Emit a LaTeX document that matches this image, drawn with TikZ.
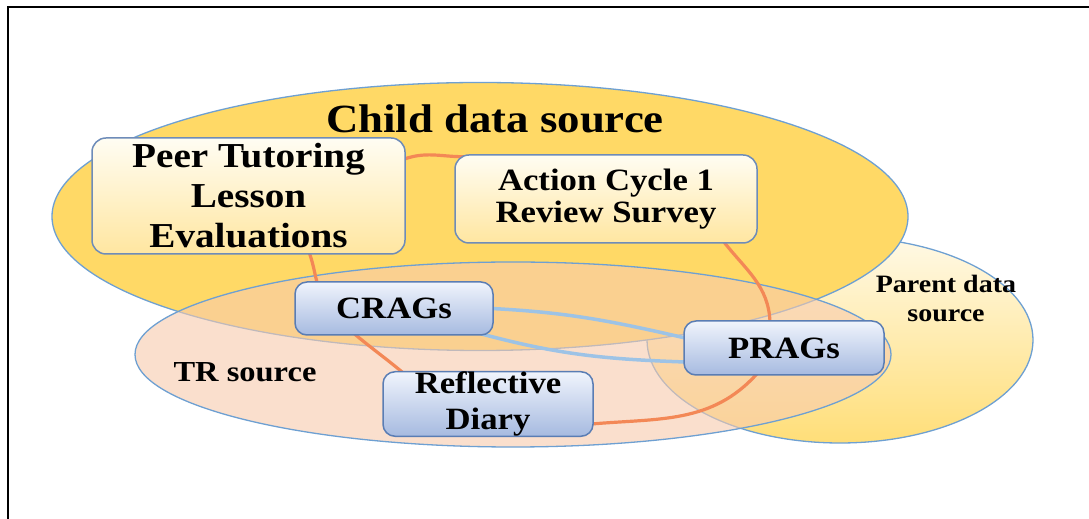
\documentclass[tikz,border=0pt]{standalone}
\usepackage{fontspec}
\setmainfont{Liberation Serif}[FakeStretch=1.12]
\usetikzlibrary{calc}

\pgfdeclarelayer{ell}
\pgfdeclarelayer{conn}
\pgfsetlayers{ell,conn,main}

\definecolor{childY}{RGB}{255,217,102}
\definecolor{trP}{RGB}{248,203,173}
\definecolor{edgeB}{RGB}{110,160,210}
\definecolor{loopO}{RGB}{243,136,86}
\definecolor{lensB}{RGB}{157,195,230}
\definecolor{ybTop}{RGB}{255,253,243}
\definecolor{ybBot}{RGB}{255,230,160}
\definecolor{bbTop}{RGB}{240,244,252}
\definecolor{bbBot}{RGB}{166,186,224}
\definecolor{bbEdge}{RGB}{90,125,180}
\definecolor{ybEdge}{RGB}{110,140,185}
\definecolor{parTop}{RGB}{255,249,230}
\definecolor{parBot}{RGB}{255,222,120}

\begin{document}
\begin{tikzpicture}[x=1pt,y=1pt,
  yellowbox/.style={draw=ybEdge, line width=1.5, rounded corners=14, top color=ybTop, bottom color=ybBot, align=center, inner sep=0},
  bluebox/.style={draw=bbEdge, line width=1.5, rounded corners=12, top color=bbTop, bottom color=bbBot, align=center, inner sep=0},
  elledge/.style={draw=edgeB, line width=1.3},
  loopline/.style={draw=loopO, line width=3.2},
  lensline/.style={draw=lensB, line width=3.5},
  title/.style={align=center, inner sep=0}
]
\useasboundingbox (0,0) rectangle (1089,519);

% boxes
\node[yellowbox, minimum width=313, minimum height=116, font=\fontsize{35}{40}\selectfont\bfseries]
  (peer) at (248.5,323) {Peer Tutoring\\Lesson\\Evaluations};
\node[yellowbox, minimum width=302, minimum height=88, font=\fontsize{31}{32}\selectfont\bfseries]
  (action) at (606,320) {Action Cycle 1\\Review Survey};
\node[bluebox, minimum width=198, minimum height=53, font=\fontsize{31}{34}\selectfont\bfseries]
  (crags) at (394,210.5) {CRAGs};
\node[bluebox, minimum width=200, minimum height=54, font=\fontsize{31}{34}\selectfont\bfseries]
  (prags) at (784,171) {PRAGs};
\node[bluebox, minimum width=210, minimum height=64, font=\fontsize{31}{36}\selectfont\bfseries]
  (refl) at (488,115) {Reflective\\Diary};

% labels
\node[title, anchor=base, font=\fontsize{40}{44}\selectfont\bfseries] (childlbl) at (495,386) {Child data source};
\node[title, anchor=base, font=\fontsize{29}{32}\selectfont\bfseries] (trlbl) at (245,137) {TR source};
\node[title, font=\fontsize{25}{29}\selectfont\bfseries] (parentlbl) at (946,221) {Parent data\\source};

% background, frame and ellipses
\begin{pgfonlayer}{ell}
  \fill[white] (0,0) rectangle (1089,519);
  \draw[line width=2.6] (8,0) -- (8,512) -- (1089,512);
  \path[elledge, top color=parTop, bottom color=parBot] (840,179) ellipse [x radius=193, y radius=103];
  \path[elledge, fill=childY] (480,302.5) ellipse [x radius=428, y radius=134];
  \path[elledge, fill=trP, fill opacity=0.6] (513,164.5) ellipse [x radius=378, y radius=92.5];
\end{pgfonlayer}

% connectors
\begin{pgfonlayer}{conn}
  \draw[loopline] ($(peer.north east)+(-2,-22)$) to[out=20,in=185] ($(action.north west)+(18,-2)$);
  \draw[loopline] ($(action.south east)+(-34,2)$) to[out=-52,in=92] ($(prags.north)+(-14,-2)$);
  \draw[loopline] ($(prags.south)+(-27,2)$) to[out=-132,in=5] ($(refl.east)+(-2,-20)$);
  \draw[loopline] ($(refl.north west)+(21,-2)$) to[out=140,in=-40] ($(crags.south west)+(60,2)$);
  \draw[loopline] ($(crags.north west)+(23,-2)$) to[out=105,in=-70] ($(peer.south west)+(218,2)$);
  \draw[lensline] ($(crags.east)+(-2,0)$) to[out=-3,in=167] ($(prags.west)+(2,10)$);
  \draw[lensline] ($(crags.south east)+(-13,2)$) to[out=-15,in=178] ($(prags.west)+(2,-14)$);
\end{pgfonlayer}
\end{tikzpicture}
\end{document}
